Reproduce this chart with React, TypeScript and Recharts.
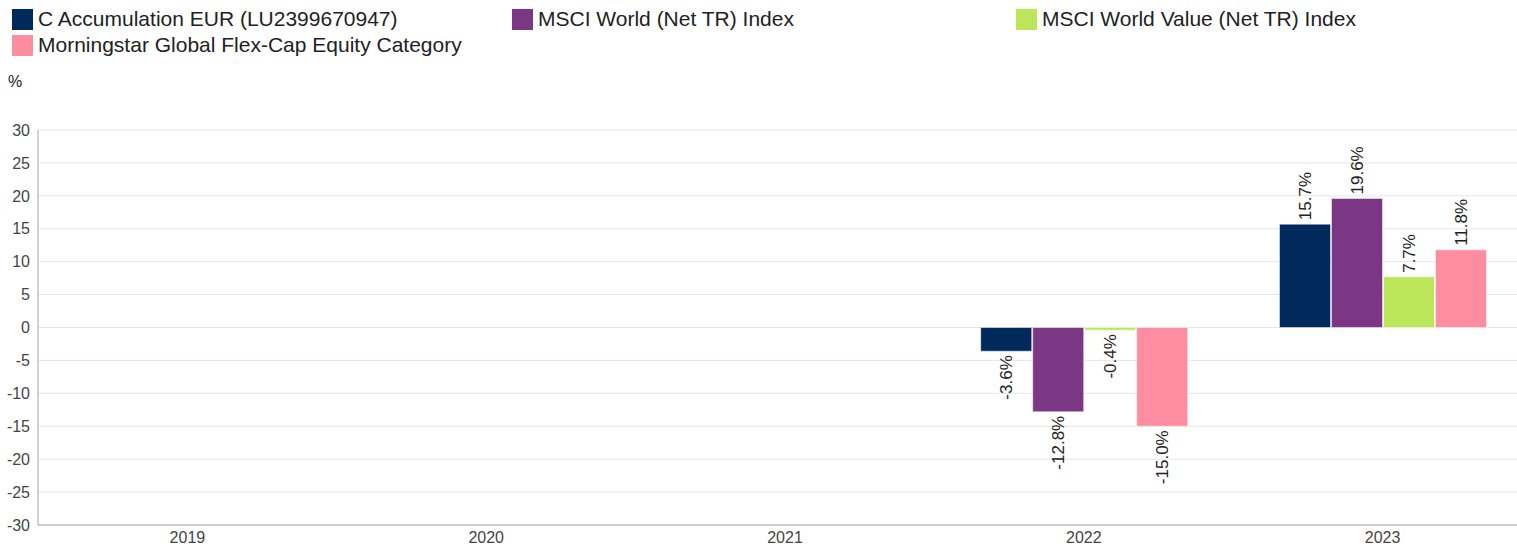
import React from "react";
import { Bar, BarChart, CartesianGrid, XAxis, YAxis } from "recharts";

const years = ["2019", "2020", "2021", "2022", "2023"];
const fund = [null, null, null, -3.6, 15.7];
const msciWorld = [null, null, null, -12.8, 19.6];
const msciValue = [null, null, null, -0.4, 7.7];
const category = [null, null, null, -15.0, 11.8];
const yTicks = [-30, -25, -20, -15, -10, -5, 0, 5, 10, 15, 20, 25, 30];

const series = [
  { key: "fund", name: "C Accumulation EUR (LU2399670947)", color: "#002a5c" },
  { key: "msciWorld", name: "MSCI World (Net TR) Index", color: "#7b3784" },
  { key: "msciValue", name: "MSCI World Value (Net TR) Index", color: "#bce65a" },
  { key: "category", name: "Morningstar Global Flex-Cap Equity Category", color: "#ff8da1" },
];

const data = years.map((year, i) => ({
  year,
  fund: fund[i],
  msciWorld: msciWorld[i],
  msciValue: msciValue[i],
  category: category[i],
}));

const FONT = '"Liberation Sans", Arial, sans-serif';
const legendCols = [12, 512, 1016];

function ValueLabel(props: any) {
  const { x, y, width, height, value } = props;
  if (value === null || value === undefined) return null;
  const cx = x + width / 2;
  const top = Math.min(y, y + height);
  const bottom = Math.max(y, y + height);
  const neg = value < 0;
  const ay = neg ? bottom + 4 : top - 4;
  return (
    <text
      x={cx}
      y={ay}
      transform={`rotate(-90 ${cx} ${ay})`}
      textAnchor={neg ? "end" : "start"}
      dominantBaseline="central"
      fontSize={17}
      fontFamily={FONT}
      fill="#222"
    >
      {value.toFixed(1) + "%"}
    </text>
  );
}

export default function App() {
  return (
    <div
      style={{
        position: "fixed",
        top: 0,
        left: 0,
        width: 1517,
        height: 549,
        overflow: "hidden",
        background: "#fff",
        fontFamily: FONT,
      }}
    >
      {series.map((s, i) => {
        const col = i % 3;
        const row = Math.floor(i / 3);
        return (
          <div
            key={s.key}
            style={{
              position: "absolute",
              left: legendCols[col],
              top: 8 + row * 26,
              display: "flex",
              alignItems: "center",
              fontSize: 21,
              color: "#222",
              whiteSpace: "nowrap",
              lineHeight: "22px",
            }}
          >
            <span
              style={{
                display: "inline-block",
                width: 21,
                height: 21,
                background: s.color,
                marginRight: 5,
              }}
            />
            {s.name}
          </div>
        );
      })}
      <div
        style={{
          position: "absolute",
          left: 8,
          top: 73,
          fontSize: 16,
          color: "#222",
        }}
      >
        %
      </div>
      <div style={{ position: "absolute", left: 0, top: 0 }}>
        <BarChart
          width={1540}
          height={549}
          data={data}
          margin={{ top: 130, right: 8, bottom: 0, left: 8 }}
          barCategoryGap="15.5%"
          barGap={1}
        >
          <CartesianGrid stroke="#e6e6e6" vertical={false} />
          <XAxis
            dataKey="year"
            height={24}
            tickLine={false}
            axisLine={{ stroke: "#a6a6a6" }}
            tick={{ fill: "#444", fontSize: 16, fontFamily: FONT }}
            tickMargin={1}
          />
          <YAxis
            width={30}
            domain={[-30, 30]}
            ticks={yTicks}
            interval={0}
            tickLine={false}
            axisLine={{ stroke: "#a6a6a6" }}
            tick={{ fill: "#444", fontSize: 16, fontFamily: FONT }}
          />
          {series.map((s) => (
            <Bar
              key={s.key}
              dataKey={s.key}
              name={s.name}
              fill={s.color}
              stroke="#fff"
              strokeWidth={0.5}
              isAnimationActive={false}
              label={<ValueLabel />}
            />
          ))}
        </BarChart>
      </div>
    </div>
  );
}
